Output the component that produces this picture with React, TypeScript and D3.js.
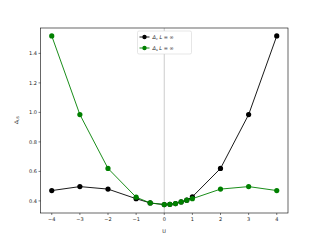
import React from "react";
import * as d3 from "d3";

const uValues = [-4, -3, -2, -1, -0.5, 0, 0.2, 0.4, 0.6, 0.8, 1, 2, 3, 4];
const deltaS = [1.518, 0.985, 0.62, 0.425, 0.386, 0.375, 0.377, 0.382, 0.393, 0.405, 0.415, 0.48, 0.497, 0.47];
const deltaC = [0.47, 0.497, 0.48, 0.415, 0.386, 0.375, 0.377, 0.382, 0.393, 0.405, 0.428, 0.62, 0.985, 1.518];
const xTicks = [-4, -3, -2, -1, 0, 1, 2, 3, 4];
const yTicks = [0.4, 0.6, 0.8, 1.0, 1.2, 1.4];

const L = 40.5, R = 288, T = 28, B = 213;

export default function App() {
  const x = d3.scaleLinear().domain([-4.4, 4.4]).range([L, R]);
  const y = d3.scaleLinear().domain([0.318, 1.572]).range([B, T]);
  const line = d3.line<[number, number]>().x(d => x(d[0])).y(d => y(d[1]));
  const black = uValues.map((u, i) => [u, deltaC[i]] as [number, number]);
  const green = uValues.map((u, i) => [u, deltaS[i]] as [number, number]);
  const font = "DejaVu Sans, sans-serif";
  return (
    <svg width={320} height={240} style={{ position: "absolute", left: 0, top: 0 }}>
      <rect x={0} y={0} width={320} height={240} fill="white" />
      <line x1={x(0)} x2={x(0)} y1={T} y2={B} stroke="#aaa" strokeWidth={0.6} />
      <path d={line(black) || ""} fill="none" stroke="black" strokeWidth={0.9} />
      {black.map((d, i) => (
        <circle key={"b" + i} cx={x(d[0])} cy={y(d[1])} r={2.6} fill="black" />
      ))}
      <path d={line(green) || ""} fill="none" stroke="green" strokeWidth={0.9} />
      {green.map((d, i) => (
        <circle key={"g" + i} cx={x(d[0])} cy={y(d[1])} r={2.6} fill="green" />
      ))}
      <rect x={L} y={T} width={R - L} height={B - T} fill="none" stroke="black" strokeWidth={0.6} />
      {xTicks.map(t => (
        <g key={"x" + t}>
          <line x1={x(t)} x2={x(t)} y1={B} y2={B + 2} stroke="black" strokeWidth={0.5} />
          <text x={x(t)} y={B + 8} fontSize={5} fontFamily={font} textAnchor="middle" fill="#222">
            {t < 0 ? "\u2212" + Math.abs(t) : String(t)}
          </text>
        </g>
      ))}
      {yTicks.map(t => (
        <g key={"y" + t}>
          <line x1={L - 2} x2={L} y1={y(t)} y2={y(t)} stroke="black" strokeWidth={0.5} />
          <text x={L - 3.5} y={y(t) + 1.8} fontSize={5} fontFamily={font} textAnchor="end" fill="#222">
            {t.toFixed(1)}
          </text>
        </g>
      ))}
      <text x={164} y={233} fontSize={5} fontFamily={font} textAnchor="middle" fill="#222">U</text>
      <text transform="translate(18,120) rotate(-90)" fontSize={5} fontFamily={font} textAnchor="middle" fill="#222">
        <tspan fontStyle="italic">Δ</tspan>
        <tspan fontSize={3.5} dy={1.2}>US</tspan>
      </text>
      <g>
        <rect x={137.5} y={31} width={54} height={23} fill="white" stroke="#ccc" strokeWidth={0.5} rx={1.5} />
        <line x1={139.5} x2={149.5} y1={37} y2={37} stroke="black" strokeWidth={0.9} />
        <circle cx={144.5} cy={37} r={2.2} fill="black" />
        <text x={152.5} y={38.8} fontSize={5} fontFamily={font} fill="#222">
          <tspan fontStyle="italic">Δ</tspan>
          <tspan fontSize={3.5} dy={1} fontStyle="italic">c</tspan>
          <tspan dy={-1} fontStyle="italic"> L</tspan>
          <tspan> = ∞</tspan>
        </text>
        <line x1={139.5} x2={149.5} y1={48} y2={48} stroke="green" strokeWidth={0.9} />
        <circle cx={144.5} cy={48} r={2.2} fill="green" />
        <text x={152.5} y={49.8} fontSize={5} fontFamily={font} fill="#222">
          <tspan fontStyle="italic">Δ</tspan>
          <tspan fontSize={3.5} dy={1} fontStyle="italic">s</tspan>
          <tspan dy={-1} fontStyle="italic"> L</tspan>
          <tspan> = ∞</tspan>
        </text>
      </g>
    </svg>
  );
}
